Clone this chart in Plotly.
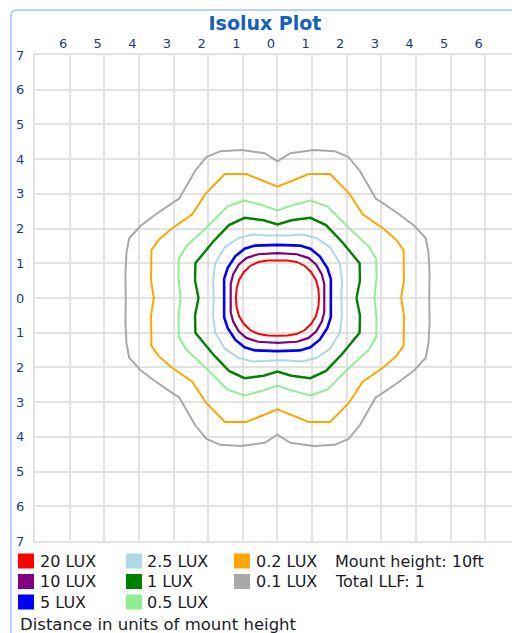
import plotly.graph_objects as go

# ---------------- data ----------------
levels = ["20 LUX", "10 LUX", "5 LUX", "2.5 LUX", "1 LUX", "0.5 LUX", "0.2 LUX", "0.1 LUX"]
colors = ["#ff0000", "#800080", "#0000ff", "#add8e6", "#008000", "#90ee90", "#ffa500", "#a9a9a9"]
widths = [2, 2.2, 2.6, 2, 2.4, 2, 2, 2]

# one quadrant of each isolux line (x >= 0, y >= 0), from the +x axis round to the +y axis,
# in units of mount height; the plot is symmetric about both axes
q_20 = [(1.20, 0.00), (1.18, 0.26), (1.11, 0.52), (0.97, 0.75), (0.78, 0.93), (0.55, 1.04),
        (0.28, 1.08), (0.00, 1.09)]
q_10 = [(1.35, 0.00), (1.35, 0.41), (1.28, 0.68), (1.12, 0.96), (0.90, 1.15), (0.56, 1.26),
        (0.00, 1.29)]
q_5 = [(1.54, 0.00), (1.54, 0.55), (1.44, 0.86), (1.22, 1.20), (0.95, 1.42), (0.65, 1.51),
       (0.00, 1.53)]
q_2_5 = [(1.84, 0.00), (1.86, 0.50), (1.80, 1.00), (1.52, 1.46), (1.12, 1.73), (0.72, 1.83),
         (0.30, 1.80), (0.00, 1.79)]
q_1 = [(2.28, 0.00), (2.38, 0.50), (2.37, 1.00), (1.86, 1.62), (1.40, 2.10), (0.95, 2.31),
       (0.40, 2.24), (0.00, 2.12)]
q_0_5 = [(2.80, 0.00), (2.86, 0.60), (2.85, 1.12), (2.64, 1.48), (2.06, 2.02), (1.44, 2.64),
         (0.95, 2.81), (0.40, 2.66), (0.00, 2.52)]
q_0_2 = [(3.57, 0.00), (3.65, 0.50), (3.64, 1.38), (3.44, 1.66), (3.08, 1.98), (2.46, 2.41),
         (2.07, 3.01), (1.52, 3.57), (0.90, 3.57), (0.00, 3.21)]
q_0_1 = [(4.38, 0.00), (4.39, 0.70), (4.36, 1.30), (4.28, 1.72), (3.95, 2.08), (3.50, 2.42),
         (3.00, 2.76), (2.84, 2.86), (2.38, 3.66), (2.05, 4.06), (1.65, 4.23), (1.04, 4.26),
         (0.37, 4.17), (0.00, 3.94)]
quadrants = [q_20, q_10, q_5, q_2_5, q_1, q_0_5, q_0_2, q_0_1]

axis_ticks = [-7, -6, -5, -4, -3, -2, -1, 0, 1, 2, 3, 4, 5, 6, 7]
axis_tick_text = [str(abs(v)) for v in axis_ticks]
top_ticks = [-6, -5, -4, -3, -2, -1, 0, 1, 2, 3, 4, 5, 6]
top_tick_text = [str(abs(v)) for v in top_ticks]

info_lines = ["Mount height: 10ft", "Total LLF: 1"]
footer = "Distance in units of mount height"

# ---------------- helpers ----------------
# the page body margin is removed below, so the figure fills the window from (0, 0)
OFF = 0
W, H = 512 - OFF, 633 - OFF
L, R, T, B = 35 - OFF, 0, 55 - OFF, 92
PW, PH = W - L - R, H - T - B


def px_x(px):
    """window pixel x -> paper coordinate"""
    return (px - OFF - L) / PW


def px_y(py):
    """window pixel y -> paper coordinate"""
    return (H - B - (py - OFF)) / PH


def closed_shape(q):
    q1 = list(q)
    q2 = [(-x, y) for x, y in reversed(q)][1:]
    q3 = [(-x, -y) for x, y in q][1:]
    q4 = [(x, -y) for x, y in reversed(q)][1:]
    pts = q1 + q2 + q3 + q4
    return [p[0] for p in pts], [p[1] for p in pts]


fig = go.Figure()
for name, col, w, q in zip(levels, colors, widths, quadrants):
    xs, ys = closed_shape(q)
    fig.add_trace(go.Scatter(
        x=xs, y=ys, mode="lines", name=name,
        line=dict(color=col, width=w, shape="linear"),
        xaxis="x2" if name == "0.1 LUX" else "x",
        showlegend=False, hoverinfo="skip",
    ))

x_range = [-7, (512 - 277.5) / 34.64]
grid_col = "#e2e2e2"
tick_font = dict(family="DejaVu Sans", size=13, color="#1a3a8f")

fig.update_layout(
    width=W, height=H,
    margin=dict(l=L, r=R, t=T, b=B, pad=0),
    paper_bgcolor="white", plot_bgcolor="white",
    showlegend=False,
    title=dict(text="Isolux Plot", x=(265 - OFF) / W, xanchor="center",
               y=1 - (23 - OFF) / H, yanchor="middle",
               font=dict(family="DejaVu Sans", size=19, color="#1560bd", weight="bold")),
    xaxis=dict(range=x_range, tickmode="linear", tick0=0, dtick=1, showgrid=True,
               gridcolor=grid_col, gridwidth=2, zeroline=False, showticklabels=False,
               showline=True, linecolor=grid_col, linewidth=2, ticks="", fixedrange=True),
    xaxis2=dict(range=x_range, overlaying="x", side="top", tickmode="array",
                tickvals=[v - 0.19 for v in top_ticks], ticktext=top_tick_text,
                showgrid=False, zeroline=False, showline=True, linecolor=grid_col, linewidth=2,
                ticks="", tickfont=tick_font, ticklabelstandoff=0, fixedrange=True),
    yaxis=dict(range=[-7, 7], tickmode="array", tickvals=axis_ticks, ticktext=axis_tick_text,
               showgrid=True, gridcolor=grid_col, gridwidth=2, zeroline=False,
               showline=True, linecolor=grid_col, linewidth=2, ticks="",
               tickfont=tick_font, ticklabelstandoff=6, fixedrange=True),
)

# outer frame (light blue): left edge, top edge and the rounded top-left corner
frame_col = "#a3c1f3"
fig.add_shape(type="line", xref="paper", yref="paper",
              x0=px_x(11), x1=px_x(11), y0=px_y(633), y1=px_y(16),
              line=dict(color=frame_col, width=1.5))
fig.add_shape(type="line", xref="paper", yref="paper",
              x0=px_x(17), x1=px_x(512), y0=px_y(10), y1=px_y(10),
              line=dict(color=frame_col, width=1.5))
fig.add_shape(type="path", xref="paper", yref="paper",
              path=f"M {px_x(11)},{px_y(16)} Q {px_x(11)},{px_y(10)} {px_x(17)},{px_y(10)}",
              line=dict(color=frame_col, width=1.5))

# legend (3 columns, filled column by column)
col_sq_x = [18, 126, 234]
col_txt_x = [38, 145, 254]
row_y = [561, 581.5, 602]
text_font = dict(family="DejaVu Sans", size=16, color="#1c1c28")
for i, (name, col) in enumerate(zip(levels, colors)):
    c, r = divmod(i, 3)
    sx, sy = col_sq_x[c], row_y[r]
    fig.add_shape(type="rect", xref="paper", yref="paper",
                  x0=px_x(sx), x1=px_x(sx + 16), y0=px_y(sy - 7.5), y1=px_y(sy + 7.5),
                  fillcolor=col, line=dict(width=0))
    fig.add_annotation(text=name, xref="paper", yref="paper", x=px_x(col_txt_x[c]), y=px_y(sy),
                       xanchor="left", yanchor="middle", showarrow=False, font=text_font)

for r, line in enumerate(info_lines):
    fig.add_annotation(text=line, xref="paper", yref="paper", x=px_x(333), y=px_y(row_y[r]),
                       xanchor="left", yanchor="middle", showarrow=False, font=text_font)

fig.add_annotation(text=footer, xref="paper", yref="paper", x=px_x(18), y=px_y(625),
                   xanchor="left", yanchor="middle", showarrow=False,
                   font=dict(family="DejaVu Sans", size=16.5, color="#1c1c28"))

# the figure fills the 512x633 window exactly: drop the default body margin and scrollbars
page_fit = ("document.body.style.margin='0';"
            "document.documentElement.style.overflow='hidden';"
            "document.body.style.overflow='hidden';")
fig.write_html("out.html", post_script=page_fit,
               config={"displayModeBar": False, "staticPlot": True})
